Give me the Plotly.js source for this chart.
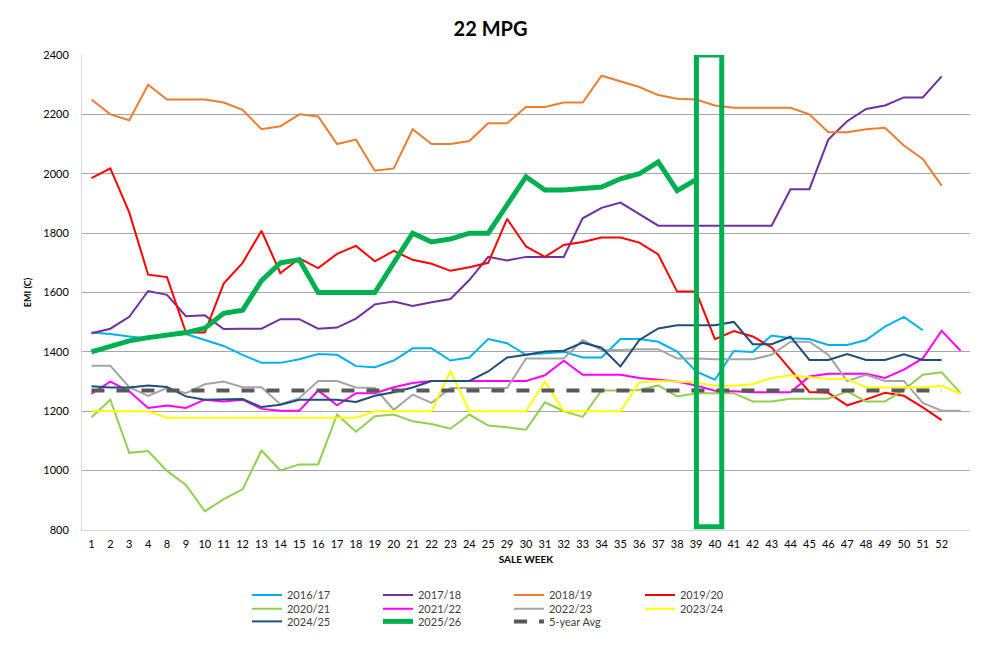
<!DOCTYPE html>
<html>
<head>
<meta charset="utf-8">
<script src="https://cdn.plot.ly/plotly-3.0.1.min.js"></script>
<style>html,body{margin:0;padding:0;background:#fff;}#chart{width:987px;height:648px;}</style>
</head>
<body>
<div id="chart"></div>
<script>
// Sale weeks (the last category has no label)
const weeks = ['1','2','3','4','8','9','10','11','12','13','14','15','16','17','18','19','20','21','22','23','24','25','29','30','31','32','33','34','35','36','37','38','39','40','41','42','43','44','45','46','47','48','49','50','51','52',' '];

const s2016_17 = [1465,1460,1452,1445,1455,1460,1440,1420,1390,1363,1363,1375,1393,1390,1352,1348,1371,1412,1412,1371,1381,1443,1429,1390,1395,1400,1381,1381,1443,1443,1434,1401,1334,1306,1403,1400,1455,1446,1443,1423,1423,1440,1485,1518,1473,null,null];
const s2017_18 = [1463,1478,1518,1605,1592,1520,1523,1477,1478,1478,1510,1510,1478,1482,1512,1560,1570,1555,1567,1578,1642,1720,1708,1720,1720,1720,1850,1885,1903,1863,1825,1825,1825,1825,1825,1825,1825,1948,1948,2115,2177,2218,2230,2257,2257,2328,null];
const s2018_19 = [2250,2200,2180,2300,2250,2250,2250,2240,2215,2150,2160,2200,2193,2100,2115,2010,2018,2150,2100,2100,2110,2170,2170,2225,2225,2240,2240,2330,2312,2292,2265,2253,2250,2230,2222,2222,2222,2222,2200,2140,2140,2150,2155,2095,2050,1960,null];
const s2019_20 = [1985,2018,1870,1660,1652,1465,1465,1630,1700,1808,1665,1715,1682,1730,1757,1705,1740,1710,1697,1673,1685,1700,1848,1755,1720,1760,1770,1785,1785,1768,1728,1603,1603,1443,1470,1452,1415,1340,1265,1262,1220,1240,1262,1252,1213,1170,null];
const s2020_21 = [1180,1239,1060,1066,999,952,863,904,937,1068,1001,1021,1021,1189,1131,1183,1189,1166,1157,1141,1189,1152,1146,1138,1230,1200,1181,1270,1270,1272,1287,1250,1261,1261,1261,1233,1233,1242,1242,1242,1267,1233,1233,1272,1323,1331,1261];
const s2021_22 = [1259,1300,1267,1211,1219,1211,1239,1233,1239,1208,1202,1202,1270,1220,1261,1261,1281,1295,1302,1302,1302,1302,1302,1302,1321,1370,1323,1323,1323,1312,1306,1300,1287,1269,1267,1264,1264,1264,1317,1326,1326,1326,1312,1340,1378,1471,1404];
const s2022_23 = [1353,1353,1281,1252,1278,1261,1291,1300,1281,1281,1224,1244,1302,1302,1280,1278,1205,1256,1228,1278,1278,1278,1278,1378,1378,1378,1440,1406,1406,1409,1409,1378,1378,1375,1375,1375,1390,1434,1434,1390,1302,1323,1302,1302,1228,1202,1202];
const s2023_24 = [1202,1200,1200,1200,1178,1178,1178,1178,1178,1178,1178,1178,1178,1178,1178,1200,1200,1200,1200,1336,1200,1200,1200,1200,1300,1200,1200,1200,1200,1297,1302,1300,1297,1286,1286,1291,1312,1321,1314,1309,1309,1280,1280,1280,1280,1286,1259];
const s2024_25 = [1284,1280,1280,1287,1282,1250,1239,1241,1241,1214,1222,1239,1239,1239,1231,1252,1264,1280,1302,1302,1302,1334,1381,1390,1401,1404,1431,1414,1351,1440,1479,1490,1490,1490,1501,1426,1426,1451,1373,1373,1393,1373,1373,1392,1373,1373,null];
const s2025_26 = [1400,1418,1437,1448,1455,1465,1480,1530,1540,1640,1700,1710,1600,1600,1600,1600,1700,1800,1770,1780,1800,1800,1895,1990,1945,1945,1950,1955,1983,2000,2040,1943,1980,null,null,null,null,null,null,null,null,null,null,null,null,null,null];
const avg5yr   = [1270,1270,1270,1270,1270,1270,1270,1270,1270,1270,1270,1270,1270,1270,1270,1270,1270,1270,1270,1270,1270,1270,1270,1270,1270,1270,1270,1270,1270,1270,1270,1270,1270,1270,1270,1270,1270,1270,1270,1270,1270,1270,1270,1270,1270,1270,null];

const yTicks = [800,1000,1200,1400,1600,1800,2000,2200,2400];

const FONT = 'Lato, "Open Sans", sans-serif';

function line(name, y, color, width, legend, dash) {
  return {
    type: 'scatter', mode: 'lines', name: name, x: weeks, y: y,
    line: {color: color, width: width, dash: dash || 'solid'},
    legend: legend, connectgaps: false, hoverinfo: 'x+y+name'
  };
}

const traces = [
  line('2016/17', s2016_17, '#00B0F0', 2, 'legend'),
  line('2017/18', s2017_18, '#7030A0', 2, 'legend'),
  line('2018/19', s2018_19, '#ED7D31', 2, 'legend'),
  line('2019/20', s2019_20, '#FF0000', 2, 'legend'),
  line('2020/21', s2020_21, '#92D050', 2, 'legend2'),
  line('2021/22', s2021_22, '#FF00FF', 2, 'legend2'),
  line('2022/23', s2022_23, '#A5A5A5', 2, 'legend2'),
  line('2023/24', s2023_24, '#FFFF00', 2, 'legend2'),
  line('2024/25', s2024_25, '#1F4E79', 2, 'legend3'),
  line('2025/26', s2025_26, '#00B050', 5, 'legend3'),
  line('5-year Avg', avg5yr, '#595959', 4, 'legend3', '13px,12px')
];

// highlight box around week 39/40
const boxFrom = weeks.indexOf('39');
const legendBase = {
  orientation: 'h', xanchor: 'left', yanchor: 'middle', x: 0.1858,
  entrywidth: 86, entrywidthmode: 'pixels', bgcolor: 'rgba(0,0,0,0)',
  font: {family: FONT, size: 11, color: '#404040'}, traceorder: 'normal',
  itemclick: false, itemdoubleclick: false
};

const layout = {
  width: 987, height: 648,
  margin: {l: 82, r: 17, t: 55, b: 115},
  paper_bgcolor: '#ffffff', plot_bgcolor: '#ffffff',
  font: {family: FONT, size: 11, color: '#404040'},
  title: {text: '<b>22 MPG</b>', x: 0.497, xref: 'container', xanchor: 'center', y: 0.955, yanchor: 'middle',
          font: {family: FONT, size: 20, color: '#000000'}},
  xaxis: {
    type: 'category', categoryorder: 'array', categoryarray: weeks,
    range: [-0.5, weeks.length - 0.5],
    showgrid: false, zeroline: false, showline: true, linecolor: '#D9D9D9', linewidth: 1,
    ticks: '', ticklabelstandoff: 4, tickangle: 0,
    tickfont: {family: FONT, size: 11, color: '#000000'},
    title: {text: '<b>SALE WEEK</b>', font: {family: FONT, size: 10, color: '#000000'}, standoff: 6}
  },
  yaxis: {
    range: [800, 2400], tickvals: yTicks, ticktext: yTicks.map(String),
    showgrid: true, gridcolor: '#A6A6A6', gridwidth: 1, zeroline: false,
    showline: true, linecolor: '#D9D9D9', linewidth: 1,
    ticks: '', ticklabelstandoff: 10,
    tickfont: {family: FONT, size: 11, color: '#000000'},
    title: {text: '<b>EMI (C)</b>', font: {family: FONT, size: 9, color: '#000000'}, standoff: 10}
  },
  legend: Object.assign({}, legendBase, {y: -0.1367}),
  legend2: Object.assign({}, legendBase, {y: -0.1656}),
  legend3: Object.assign({}, legendBase, {y: -0.1924}),
  shapes: [{
    type: 'rect', xref: 'x', yref: 'y',
    x0: boxFrom + 0.02, x1: boxFrom + 1.36, y0: 811, y1: 2400,
    line: {color: '#00B050', width: 5}, fillcolor: 'rgba(0,0,0,0)', layer: 'above'
  }],
  showlegend: true
};

Plotly.newPlot('chart', traces, layout, {displayModeBar: false, staticPlot: true});
</script>
</body>
</html>
